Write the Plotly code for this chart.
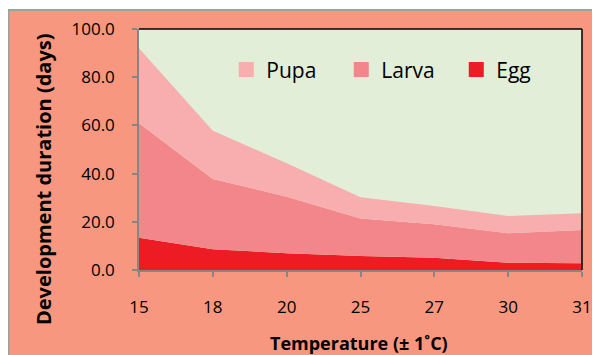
import plotly.graph_objects as go

temps = ["15", "18", "20", "25", "27", "30", "31"]
egg = [13.4, 8.6, 7.0, 5.8, 5.1, 3.0, 2.8]
larva = [47.5, 29.2, 23.4, 15.6, 13.9, 12.2, 13.8]
pupa = [31.1, 20.0, 13.9, 8.8, 7.6, 7.2, 6.9]

C_EGG = "#ED1C24"
C_LARVA = "#F3868A"
C_PUPA = "#F8ADAE"
C_PAPER = "#F7977F"
C_PLOT = "#E2EED8"
FONT = "Open Sans"

# figure is placed by the page at an 8px offset; plot area in figure px
W, H = 592, 347
L, T, R, B = 131, 21, 18, 85
PW, PH = W - L - R, H - T - B


def px(xf):
    return (xf - L) / PW


def py(yf):
    return (H - B - yf) / PH


fig = go.Figure()
for name, vals, col in [("Egg", egg, C_EGG), ("Larva", larva, C_LARVA), ("Pupa", pupa, C_PUPA)]:
    fig.add_trace(go.Scatter(
        x=temps, y=vals, name=name, stackgroup="one", mode="lines",
        line=dict(width=0, color=col), fillcolor=col, showlegend=False,
        hoverinfo="x+y+name"))

for name, col in [("Pupa", C_PUPA), ("Larva", C_LARVA), ("Egg", C_EGG)]:
    fig.add_trace(go.Scatter(
        x=[None], y=[None], name=name, mode="markers",
        marker=dict(symbol="square", size=15, color=col), showlegend=True))

fig.update_layout(
    width=W, height=H,
    margin=dict(l=L, r=R, t=T, b=B, autoexpand=False),
    paper_bgcolor=C_PAPER, plot_bgcolor=C_PLOT,
    font=dict(family=FONT, color="#000000", size=17),
    legend=dict(orientation="h", x=0.197, xanchor="left", y=0.83, yanchor="middle",
                bgcolor="rgba(0,0,0,0)", font=dict(size=21, family=FONT),
                entrywidth=70, entrywidthmode="pixels", itemwidth=30,
                traceorder="normal"),
    xaxis=dict(type="category", range=[0, 6], showgrid=False, zeroline=False,
               showline=True, linecolor="#868686", linewidth=1.5,
               ticks="outside", ticklen=5, tickcolor="#868686", tickwidth=1.5,
               ticklabelstandoff=16, tickfont=dict(size=17)),
    yaxis=dict(range=[0, 100], dtick=20, tickformat=".1f", showgrid=False,
               zeroline=False, showline=True, linecolor="#868686", linewidth=1.5,
               ticks="outside", ticklen=5, tickcolor="#868686", tickwidth=1.5,
               ticklabelstandoff=14, tickfont=dict(size=17)),
    showlegend=True,
)

shapes = [
    # top and right plot border
    dict(type="line", xref="paper", yref="paper", x0=0, x1=1, y0=1, y1=1,
         line=dict(color="#000000", width=1.5)),
    dict(type="line", xref="paper", yref="paper", x0=1, x1=1, y0=0, y1=1,
         line=dict(color="#000000", width=1.5)),
    # thin white strip above the chart frame, then the gray frame lines
    dict(type="rect", xref="paper", yref="paper",
         x0=px(0), x1=px(W), y0=py(0), y1=py(1.5),
         fillcolor="white", line=dict(width=0)),
    dict(type="line", xref="paper", yref="paper",
         x0=px(0), x1=px(W), y0=py(2), y1=py(2),
         line=dict(color="#A0A0A0", width=2)),
    dict(type="line", xref="paper", yref="paper",
         x0=px(0.5), x1=px(0.5), y0=py(2), y1=py(H),
         line=dict(color="#A0A0A0", width=2)),
]
fig.update_layout(shapes=shapes)

fig.add_annotation(text="<b>Development duration (days)</b>", xref="paper", yref="paper",
                   x=px(43 - 8), y=py(179 - 8), showarrow=False, textangle=-90,
                   xanchor="center", yanchor="middle", font=dict(size=20, family=FONT))
fig.add_annotation(text="<b>Temperature (± 1˚C)</b>", xref="paper", yref="paper",
                   x=px(358.5 - 8), y=py(343 - 8), showarrow=False,
                   xanchor="center", yanchor="middle", font=dict(size=18, family=FONT))

fig.write_html("out.html")
